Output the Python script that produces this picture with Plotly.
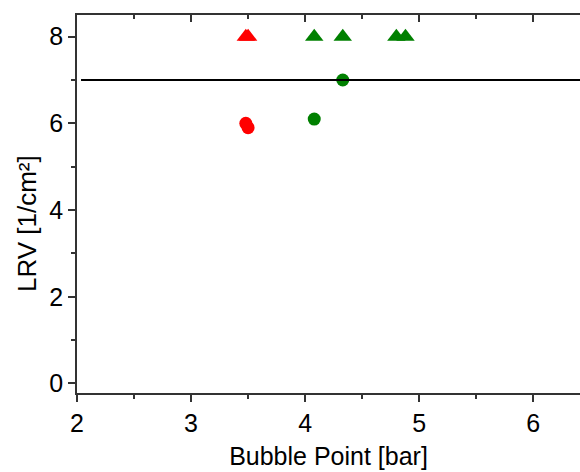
import plotly.graph_objects as go

# Data
red_tri_x = [3.48, 3.50]
red_tri_y = [8.0, 8.0]
green_tri_x = [4.08, 4.33, 4.80, 4.88]
green_tri_y = [8.0, 8.0, 8.0, 8.0]
red_circ_x = [3.48, 3.50]
red_circ_y = [6.0, 5.9]
green_circ_x = [4.08, 4.33]
green_circ_y = [6.1, 7.0]
threshold = 7.0

x_range = [2, 6.41]
y_range = [-0.22, 8.5]

RED = "#FF0000"
GREEN = "#008000"
AX = "#333333"
FONT = "Liberation Sans, Arial, sans-serif"

fig = go.Figure()
fig.add_trace(go.Scatter(x=red_circ_x, y=red_circ_y, mode="markers",
                         marker=dict(symbol="circle", size=13, color=RED, line=dict(width=0))))
fig.add_trace(go.Scatter(x=green_circ_x, y=green_circ_y, mode="markers",
                         marker=dict(symbol="circle", size=13, color=GREEN, line=dict(width=0))))
fig.add_trace(go.Scatter(x=red_tri_x, y=red_tri_y, mode="markers",
                         marker=dict(symbol="triangle-up", size=16, color=RED, line=dict(width=0))))
fig.add_trace(go.Scatter(x=green_tri_x, y=green_tri_y, mode="markers",
                         marker=dict(symbol="triangle-up", size=16, color=GREEN, line=dict(width=0))))
# invisible trace to anchor top mirror axis
fig.add_trace(go.Scatter(x=x_range, y=[threshold, threshold], xaxis="x2", mode="lines",
                         line=dict(width=0), hoverinfo="skip", showlegend=False, opacity=0))

fig.add_shape(type="line", xref="x domain", yref="y", x0=0.008, x1=1, y0=threshold, y1=threshold,
              line=dict(color="black", width=2.2))

fig.add_annotation(text="LRV [1/cm²]", xref="paper", yref="paper", x=-0.0994, y=0.447,
                   xanchor="center", yanchor="middle", textangle=-90, showarrow=False,
                   font=dict(size=26, family=FONT, color="black"))

fig.update_layout(
    width=580, height=472,
    margin=dict(l=77, r=0, t=15, b=79),
    plot_bgcolor="white", paper_bgcolor="white",
    showlegend=False,
    font=dict(family=FONT, color="black", size=25),
    xaxis=dict(
        range=x_range, dtick=1, tick0=2,
        showgrid=False, zeroline=False,
        showline=True, linecolor=AX, linewidth=1.5,
        ticks="outside", ticklen=7, tickwidth=1.5, tickcolor=AX,
        minor=dict(dtick=0.5, tick0=2, ticks="outside", ticklen=4, tickwidth=1.5, tickcolor=AX),
        tickfont=dict(size=25, family=FONT),
        title=dict(text="Bubble Point [bar]", font=dict(size=25, family=FONT), standoff=12),
    ),
    xaxis2=dict(
        range=x_range, overlaying="x", side="top", dtick=1, tick0=2,
        showgrid=False, zeroline=False, showticklabels=False,
        showline=True, linecolor=AX, linewidth=1.5,
        ticks="inside", ticklen=7, tickwidth=1.5, tickcolor=AX,
        minor=dict(dtick=0.5, tick0=2, ticks="inside", ticklen=4, tickwidth=1.5, tickcolor=AX),
    ),
    yaxis=dict(
        range=y_range, dtick=2, tick0=0,
        showgrid=False, zeroline=False,
        showline=True, linecolor=AX, linewidth=1.5,
        ticks="outside", ticklen=7, tickwidth=1.5, tickcolor=AX,
        minor=dict(dtick=1, tick0=0, ticks="outside", ticklen=4, tickwidth=1.5, tickcolor=AX),
        tickfont=dict(size=25, family=FONT),
    ),
)

fig.write_html("out.html")
